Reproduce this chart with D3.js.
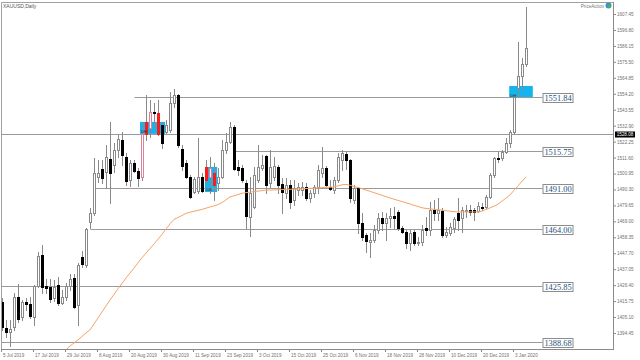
<!DOCTYPE html>
<html><head><meta charset="utf-8">
<script src="https://cdn.jsdelivr.net/npm/d3@7"></script>
<style>body{margin:0;background:#fff}svg{display:block}</style>
</head><body><svg id="c" width="640" height="360"></svg>
<script>
// ---------- DATA ----------
const symbolTitle = "XAUUSD,Daily";
const holidays = ["2019-12-25", "2020-01-01"];
const firstDay = "2019-07-05", lastDay = "2020-01-08";
const tickLabels = ["5 Jul 2019","17 Jul 2019","29 Jul 2019","8 Aug 2019","20 Aug 2019","30 Aug 2019","11 Sep 2019","23 Sep 2019","3 Oct 2019","15 Oct 2019","25 Oct 2019","6 Nov 2019","18 Nov 2019","28 Nov 2019","10 Dec 2019","20 Dec 2019","3 Jan 2020"];
const yTicks = [1607.45,1596.80,1586.15,1575.50,1564.85,1554.20,1543.55,1532.90,1522.25,1511.60,1500.95,1490.30,1479.65,1469.00,1458.35,1447.70,1437.05,1426.40,1415.75,1405.10,1394.45];

const open = [1415.2,1397.8,1395.2,1398.5,1418.5,1405.2,1415.2,1413.8,1405.2,1425.8,1446.5,1425.8,1425.2,1417.8,1426.5,1414.5,1418.5,1425.8,1431.2,1413.2,1445.2,1439.8,1468.6,1474.6,1498.6,1503.9,1501.9,1510.6,1506.6,1516.6,1523.4,1511.9,1496.6,1507.9,1502.6,1498.6,1527.4,1531.4,1542.0,1541.4,1533.4,1528.7,1530.0,1548.0,1553.4,1517.4,1507.9,1498.6,1488.6,1489.3,1498.6,1505.3,1498.6,1501.3,1494.6,1498.6,1516.6,1522.0,1532.0,1505.3,1504.6,1494.6,1471.9,1478.6,1496.6,1504.6,1512.6,1494.6,1498.6,1505.3,1493.9,1487.9,1493.3,1483.3,1489.9,1489.9,1491.9,1484.6,1487.9,1491.9,1501.3,1504.6,1491.9,1489.9,1496.6,1509.9,1513.9,1509.9,1483.3,1491.3,1467.9,1459.9,1455.3,1456.6,1463.3,1471.3,1467.9,1471.3,1472.6,1475.3,1464.6,1461.9,1454.6,1461.9,1454.6,1455.3,1464.6,1463.3,1476.6,1474.6,1475.9,1459.9,1461.3,1464.6,1474.6,1471.3,1475.9,1476.6,1476.6,1475.9,1478.6,1478.6,1485.3,1499.9,1511.3,1511.3,1515.3,1521.4,1528.7,1558.0,1566.0,1574.1];
const high = [1417.8,1403.2,1403.2,1421.2,1427.2,1416.5,1417.8,1418.5,1426.5,1448.5,1453.3,1430.5,1430.5,1429.8,1431.8,1423.2,1427.8,1433.8,1433.8,1441.2,1449.2,1464.6,1477.9,1511.3,1509.9,1509.9,1520.0,1535.4,1521.4,1526.7,1528.7,1514.6,1509.9,1509.9,1504.6,1534.7,1553.4,1550.0,1548.0,1550.0,1535.4,1536.7,1555.4,1557.4,1554.0,1520.0,1509.9,1499.9,1498.6,1524.7,1501.3,1509.9,1511.9,1507.9,1504.6,1523.4,1528.0,1535.4,1533.4,1509.9,1506.6,1496.6,1498.6,1505.3,1520.0,1513.3,1513.3,1516.6,1511.9,1506.6,1497.9,1497.9,1496.6,1496.6,1494.6,1495.3,1494.6,1489.9,1493.3,1506.6,1518.7,1505.9,1496.6,1498.6,1514.6,1516.6,1515.9,1510.6,1493.3,1491.9,1474.6,1461.3,1461.3,1466.6,1474.6,1475.3,1474.6,1477.9,1478.6,1476.6,1465.9,1463.3,1463.3,1463.3,1458.6,1466.6,1471.9,1481.9,1483.3,1484.6,1477.9,1465.3,1467.9,1471.9,1484.6,1478.6,1479.9,1479.9,1477.9,1481.9,1481.3,1486.6,1501.3,1511.9,1515.3,1516.6,1524.7,1530.0,1553.4,1588.8,1578.1,1612.1];
const low = [1396.5,1391.8,1385.8,1396.5,1401.8,1403.2,1409.8,1404.5,1399.8,1425.2,1421.2,1421.2,1415.2,1415.8,1413.2,1413.8,1416.5,1423.2,1411.2,1399.8,1438.5,1438.5,1464.6,1473.3,1495.3,1494.6,1491.3,1481.3,1501.9,1511.9,1506.6,1493.3,1492.6,1501.9,1492.6,1496.6,1523.4,1525.4,1532.0,1526.7,1518.0,1528.0,1528.7,1545.4,1518.7,1503.3,1497.9,1484.6,1487.9,1487.9,1488.6,1495.3,1487.9,1483.3,1489.9,1497.9,1514.6,1521.4,1503.3,1499.9,1495.3,1464.6,1459.3,1477.9,1495.3,1503.3,1487.9,1491.9,1496.6,1487.9,1474.6,1484.6,1477.9,1479.9,1486.6,1486.6,1483.3,1481.9,1485.3,1487.9,1498.6,1492.6,1489.9,1487.9,1495.3,1503.3,1503.9,1481.9,1481.3,1461.3,1456.6,1448.5,1445.2,1455.3,1461.3,1463.3,1456.6,1465.3,1464.6,1463.3,1461.3,1451.3,1449.8,1453.3,1453.3,1453.3,1459.9,1459.9,1469.9,1469.9,1458.6,1458.6,1459.9,1461.9,1463.3,1461.9,1471.9,1473.3,1469.9,1475.3,1476.6,1477.9,1484.6,1498.6,1508.6,1509.9,1514.6,1518.7,1527.4,1552.0,1556.7,1572.8];
const close = [1398.5,1395.2,1397.2,1418.5,1403.8,1415.2,1413.8,1405.8,1425.8,1445.8,1425.2,1424.5,1417.2,1425.2,1414.5,1418.5,1425.8,1430.5,1411.8,1439.8,1440.5,1463.9,1474.6,1501.3,1501.3,1497.9,1511.9,1501.3,1516.6,1524.0,1513.3,1495.9,1507.9,1502.6,1497.9,1527.4,1535.4,1542.0,1541.4,1527.4,1521.4,1533.4,1548.0,1553.4,1520.0,1505.9,1498.6,1485.3,1497.3,1498.6,1489.3,1496.6,1504.6,1493.3,1498.6,1516.6,1522.0,1532.0,1503.9,1503.3,1496.6,1472.6,1487.9,1499.9,1505.3,1506.6,1493.3,1505.3,1505.9,1493.3,1488.6,1493.3,1481.9,1491.3,1491.9,1491.9,1484.6,1487.9,1491.9,1503.3,1504.6,1493.3,1490.6,1496.6,1511.9,1514.6,1509.9,1484.6,1491.3,1467.9,1458.6,1455.9,1456.6,1463.3,1471.3,1467.9,1471.3,1472.6,1471.3,1464.6,1461.9,1454.6,1461.3,1454.6,1455.3,1463.3,1463.3,1476.6,1474.6,1476.6,1459.9,1461.9,1465.3,1470.6,1469.9,1476.6,1476.6,1475.3,1475.3,1479.3,1477.9,1485.3,1499.9,1511.3,1510.6,1515.3,1521.4,1528.7,1552.0,1566.0,1574.1,1584.8];

// moving average, first value belongs to bar maStart
const maStart = 16;
const ma = [1383.1,1385.8,1387.8,1389.8,1392.2,1394.5,1396.5,1400.5,1404.5,1408.5,1412.5,1416.5,1420.2,1424.0,1427.5,1431.2,1434.5,1437.8,1441.4,1444.7,1447.8,1450.9,1453.9,1457.1,1460.3,1463.9,1467.3,1470.3,1471.6,1472.9,1474.3,1475.1,1475.7,1476.3,1477.0,1477.8,1478.6,1479.4,1480.2,1481.5,1483.4,1485.3,1486.1,1486.9,1487.7,1488.2,1488.5,1488.9,1489.2,1489.5,1489.9,1489.9,1490.0,1490.1,1490.2,1490.3,1490.4,1490.5,1490.5,1490.7,1490.9,1491.0,1491.1,1491.3,1491.5,1491.7,1491.8,1491.9,1492.7,1493.4,1493.7,1493.1,1492.3,1491.6,1490.8,1489.9,1489.1,1488.1,1487.3,1486.4,1485.5,1484.6,1483.8,1483.0,1482.2,1481.4,1480.6,1479.7,1478.9,1478.1,1477.6,1477.4,1477.0,1476.7,1476.5,1476.1,1475.8,1475.5,1475.3,1475.3,1475.3,1475.3,1475.3,1475.3,1475.8,1476.9,1478.0,1479.1,1480.5,1482.5,1484.5,1486.6,1489.7,1492.7,1495.8,1498.6];

// horizontal levels and the bar where each one starts (null = whole chart)
const levels = [1551.84, 1515.75, 1491.00, 1464.00, 1425.85, 1388.68];
const levelStart = [33, 58, 23, 22, null, null];
const priceLine = 1527.40;
const priceLineLabel = "1528.08";

// pattern zones (bar range, price range) and their tags
const zoneFrom = [34.5, 50.75, 126.8];
const zoneTo = [40.75, 53.8, 132.7];
const zoneTop = [1535.4, 1505.3, 1559.4];
const zoneBottom = [1527.4, 1488.6, 1551.4];
const zoneTag = ["DH", "DB", "DH"];
const redBars = [36, 39, 51, 53];

// ---------- BUILD ----------
const dates = [];
{
  const parse = d3.utcParse("%Y-%m-%d"), fmt = d3.utcFormat("%Y-%m-%d");
  let d = parse(firstDay); const end = parse(lastDay);
  while (d <= end) {
    const wd = d.getUTCDay();
    if (wd !== 0 && wd !== 6 && !holidays.includes(fmt(d))) dates.push(new Date(d));
    d = d3.utcDay.offset(d, 1);
  }
}
const n = close.length;
const bars = d3.range(n).map(i => ({i, date: dates[i], o: open[i], h: high[i], l: low[i], c: close[i]}));

const svg = d3.select("#c");
const P = {left: 1, top: 2, right: 613, bottom: 349};
const x = d3.scaleLinear().domain([0, n - 1]).range([2, 526]);
const y = d3.scaleLinear().domain([yTicks[yTicks.length - 1], yTicks[0]]).range([333, 14]);
const col = i => Math.round(x(i)) + 0.5;
const ry = v => Math.round(y(v));

svg.append("rect").attr("width", 640).attr("height", 360).attr("fill", "#fff");
svg.append("defs").append("clipPath").attr("id", "clip")
  .append("rect").attr("x", P.left).attr("y", P.top).attr("width", P.right - P.left).attr("height", P.bottom - P.top);
const g = svg.append("g").attr("clip-path", "url(#clip)");

// zones
g.selectAll("rect.zone").data(zoneFrom).join("rect").attr("class", "zone")
  .attr("x", (d, k) => x(d)).attr("width", (d, k) => x(zoneTo[k]) - x(d))
  .attr("y", (d, k) => y(zoneTop[k])).attr("height", (d, k) => y(zoneBottom[k]) - y(zoneTop[k]))
  .attr("fill", "#14b4ef");

// levels
const labelX = 542.5, labelW = 30, labelH = 9;
g.selectAll("line.lvl").data(levels).join("line").attr("class", "lvl")
  .attr("x1", (d, k) => levelStart[k] == null ? P.left : col(levelStart[k]))
  .attr("x2", labelX)
  .attr("y1", d => ry(d) + 0.5).attr("y2", d => ry(d) + 0.5)
  .attr("stroke", "#9a9a9a").attr("stroke-width", 1);
g.append("line").attr("x1", P.left).attr("x2", P.right)
  .attr("y1", ry(priceLine) + 0.5).attr("y2", ry(priceLine) + 0.5)
  .attr("stroke", "#9a9a9a");

// candles
const inZone = i => zoneFrom.some((f, k) => i >= f && i <= zoneTo[k]) && i < 120;
const cg = g.append("g");
cg.selectAll("line.wick").data(bars).join("line").attr("class", "wick")
  .attr("x1", d => col(d.i)).attr("x2", d => col(d.i))
  .attr("y1", d => ry(d.h)).attr("y2", d => ry(d.l) + 1)
  .attr("stroke", "#8a8a8a");
cg.selectAll("rect.body").data(bars).join("rect").attr("class", "body")
  .each(function (d) {
    const s = d3.select(this);
    const red = redBars.includes(d.i);
    if (d.c >= d.o) {
      const top = ry(d.c), bot = ry(d.o);
      s.attr("x", col(d.i) - 1).attr("width", 2)
        .attr("y", top + 0.5).attr("height", Math.max(bot - top, 1))
        .attr("fill", red ? "#ff1a1a" : "#fff")
        .attr("stroke", red ? "#ff1a1a" : (inZone(d.i) ? "#e0809a" : "#8a8a8a"));
    } else {
      const top = ry(d.o), bot = ry(d.c);
      s.attr("x", col(d.i) - 1.5).attr("width", 3)
        .attr("y", top).attr("height", Math.max(bot - top, 1) + 1)
        .attr("fill", red ? "#ff1a1a" : "#000");
    }
  });

// zone tags
g.selectAll("text.tag").data(zoneTag).join("text").attr("class", "tag")
  .attr("x", (d, k) => x(zoneFrom[k]) + 1).attr("y", (d, k) => y(zoneBottom[k]) - 1)
  .attr("font-family", "Liberation Sans, Arial").attr("font-size", 4.2).attr("fill", "#333")
  .text(d => d);

// moving average
g.append("path").datum(ma)
  .attr("d", d3.line().x((d, k) => x(k + maStart)).y(d => y(d)))
  .attr("fill", "none").attr("stroke", "#f7a366").attr("stroke-width", 1);

// level labels
const lg = svg.append("g");
levels.forEach((v, k) => {
  const cy = ry(v) + 0.5;
  lg.append("rect").attr("x", labelX + 0.5).attr("y", Math.round(cy - labelH / 2) + 0.5)
    .attr("width", labelW).attr("height", labelH).attr("fill", "#fff").attr("stroke", "#8c8c8c");
  lg.append("text").attr("x", labelX + 0.5 + labelW / 2).attr("y", cy + 3)
    .attr("text-anchor", "middle").attr("font-family", "Liberation Serif, Times New Roman, serif")
    .attr("font-size", 8.4).attr("fill", "#24507e").text(d3.format(".2f")(v));
});

// frame
svg.append("path").attr("d", `M${P.left + 0.5},${P.bottom + 0.5}V${P.top + 0.5}H${P.right + 0.5}`)
  .attr("fill", "none").attr("stroke", "#a0a0a0");

// y axis
const ya = svg.append("g").attr("transform", `translate(${P.right},0)`)
  .call(d3.axisRight(y).tickValues(yTicks).tickSize(3).tickPadding(1).tickFormat(d3.format(".2f")));
ya.select(".domain").attr("d", `M0.5,${P.top}V${P.bottom + 1}`).attr("stroke", "#8a8a8a");
ya.selectAll(".tick line").attr("stroke", "#8a8a8a");
ya.selectAll(".tick text").attr("font-family", "Liberation Sans, Arial").attr("font-size", 4.6).attr("fill", "#707070");

// current price tag
const pt = svg.append("g").attr("transform", `translate(${P.right + 2},${ry(priceLine) + 0.5})`);
pt.append("rect").attr("x", 0).attr("y", -3).attr("width", 20).attr("height", 6).attr("fill", "#000");
pt.append("text").attr("x", 10).attr("y", 1.7).attr("text-anchor", "middle")
  .attr("font-family", "Liberation Sans, Arial").attr("font-size", 4.6).attr("fill", "#fff").text(priceLineLabel);

// x axis
const tickIdx = tickLabels.map((t, k) => k * 8);
const xa = svg.append("g").attr("transform", `translate(0,${P.bottom})`)
  .call(d3.axisBottom(x).tickValues(tickIdx).tickSize(3).tickFormat((d, k) => tickLabels[k]));
xa.select(".domain").attr("d", `M${P.left},0.5H${P.right + 1}`).attr("stroke", "#8a8a8a");
xa.selectAll(".tick").attr("transform", d => `translate(${Math.round(x(d)) - 0.5},0)`);
xa.selectAll(".tick line").attr("stroke", "#8a8a8a");
xa.selectAll(".tick text").attr("text-anchor", "start").attr("x", 1.5).attr("dy", "0.5em")
  .attr("font-family", "Liberation Sans, Arial").attr("font-size", 4.6).attr("fill", "#707070");

// title & logo
svg.append("text").attr("x", 3).attr("y", 7.5).attr("font-family", "Liberation Sans, Arial")
  .attr("font-size", 5).attr("fill", "#555").text(symbolTitle);
svg.append("text").attr("x", 604).attr("y", 7.5).attr("text-anchor", "end").attr("font-family", "Liberation Sans, Arial")
  .attr("font-size", 4.6).attr("fill", "#777").text("PriceAction");
const logo = svg.append("g").attr("transform", "translate(608.5,5.5)");
logo.append("circle").attr("r", 3).attr("fill", "#3a8fd0");
logo.append("circle").attr("cx", 0.6).attr("cy", 0.8).attr("r", 1.8).attr("fill", "#4caf50");
</script>
</body></html>
